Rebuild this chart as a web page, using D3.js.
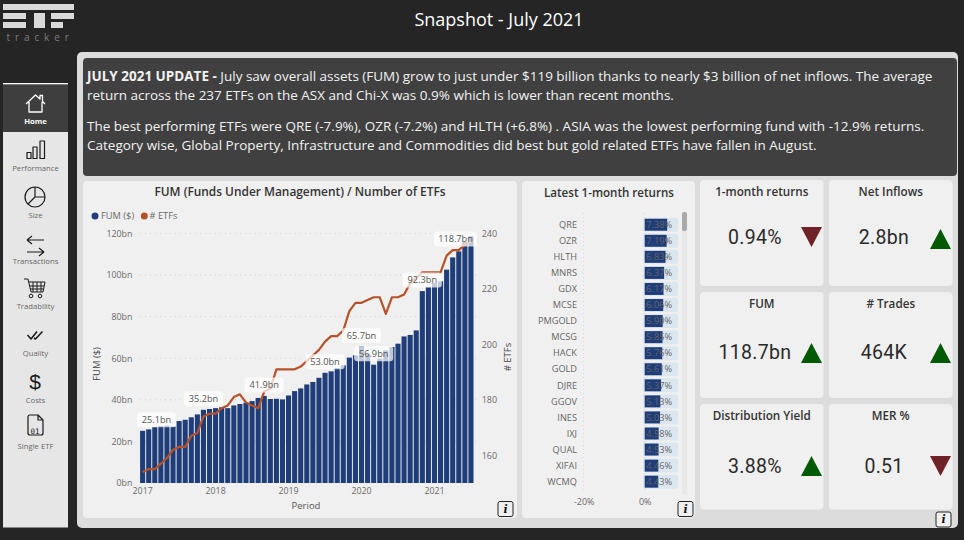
<!DOCTYPE html>
<html><head><meta charset="utf-8">
<script src="https://cdn.jsdelivr.net/npm/d3@7"></script>
<style>
html,body{margin:0;padding:0;background:#252525;overflow:hidden}
svg{display:block}
text{font-family:"Open Sans",sans-serif}
</style></head><body>
<svg id="c" width="964" height="540"></svg>
<script>
const periods=["2017-01","2017-02","2017-03","2017-04","2017-05","2017-06","2017-07","2017-08","2017-09","2017-10","2017-11","2017-12",
"2018-01","2018-02","2018-03","2018-04","2018-05","2018-06","2018-07","2018-08","2018-09","2018-10","2018-11","2018-12",
"2019-01","2019-02","2019-03","2019-04","2019-05","2019-06","2019-07","2019-08","2019-09","2019-10","2019-11","2019-12",
"2020-01","2020-02","2020-03","2020-04","2020-05","2020-06","2020-07","2020-08","2020-09","2020-10","2020-11","2020-12",
"2021-01","2021-02","2021-03","2021-04","2021-05","2021-06","2021-07"];
const fum=[25.1,25.8,26.9,27.4,27.6,27.2,29.8,30.4,31.6,33.0,35.2,35.6,36.0,36.4,36.0,37.3,38.0,38.6,39.4,40.9,41.9,40.4,40.5,40.2,42.1,44.2,45.5,47.4,48.6,50.6,53.0,53.7,55.3,56.6,60.3,61.4,65.7,62.2,56.9,59.8,63.8,65.4,67.0,70.5,71.2,73.4,92.3,94.2,96.2,97.0,102.6,108.5,111.4,115.9,118.7];
const etfs=[154,155,155,157,159,162,163,163,167,168,174,175,175,177,178,181,182,179,178,177,183,184,191,191,191,191,192,194,196,198,201,203,203,205,212,215,215,216,217,217,211,217,217,218,222,224,226,226,226,226,232,234,234,236,237];
const labelled=["2017-01","2017-11","2018-09","2019-07","2020-01","2020-03","2020-11","2021-07"];
const yearTicks=["2017-01","2018-01","2019-01","2020-01","2021-01"];
const fumTicks=[0,20,40,60,80,100,120];
const etfTicks=[160,180,200,220,240];
const retNames=["QRE","OZR","HLTH","MNRS","GDX","MCSE","PMGOLD","MCSG","HACK","GOLD","DJRE","GGOV","INES","IXJ","QUAL","XIFAI","WCMQ"];
const retVals=[7.38,7.19,6.83,6.37,6.17,6.06,5.90,5.85,5.76,5.61,5.37,5.13,5.03,4.58,4.53,4.46,4.43];
const retTicks=[-20,0];
const kpiTitles=["1-month returns","Net Inflows","FUM","# Trades","Distribution Yield","MER %"];
const kpiValues=["0.94%","2.8bn","118.7bn","464K","3.88%","0.51"];
const kpiUp=[false,true,true,true,true,false];
const navLabels=["Home","Performance","Size","Transactions","Tradability","Quality","Costs","Single ETF"];
const paragraphLines=[
 [["JULY 2021 UPDATE - ",700],["July saw overall assets (FUM) grow to just under $119 billion thanks to nearly $3 billion of net inflows. The average",400]],
 [["return across the 237 ETFs on the ASX and Chi-X was 0.9% which is lower than recent months.",400]],
 [["The best performing ETFs were QRE (-7.9%), OZR (-7.2%) and HLTH (+6.8%) . ASIA was the lowest performing fund with -12.9% returns.",400]],
 [["Category wise, Global Property, Infrastructure and Commodities did best but gold related ETFs have fallen in August.",400]]
];

const svg=d3.select("#c");
const NAVY="#1f3d78",RUST="#b5522a",CARD="#f0f0f0",GREY="#6a6a6a";
const rect=(x,y,w,h,fill,r=0)=>svg.append("rect").attr("x",x).attr("y",y).attr("width",w).attr("height",h).attr("fill",fill).attr("rx",r);
const txt=(x,y,s,size,fill,anchor="middle",weight=400,fam=null)=>{
  const t=svg.append("text").attr("x",x).attr("y",y).attr("dy","0.35em").attr("font-size",size).attr("fill",fill).attr("text-anchor",anchor).attr("font-weight",weight).text(s);
  if(fam)t.style("font-family",fam);return t;};

/* shell */
rect(0,0,964,540,"#252525");
rect(77,52,881,476,"#dcdcdc",5);
rect(83,58,874,118,"#404040",4);
rect(83,181,434,337,CARD,4);
rect(522,181,173,337,CARD,4);

/* logo */
[[3,4,71,6],[3,13,23,6],[3,22,23,6],[34,13,11,15],[51,13,23,6],[51,22,12,6]].forEach(d=>rect(d[0],d[1],d[2],d[3],"#d9d9d9"));
txt(6.5,37.5,"tracker",10,"#7d7d7d","start").attr("letter-spacing","4.9px");
txt(499,20,"Snapshot - July 2021",18,"#ffffff");

/* paragraph */
const lineY=[76.5,95.5,126,145.5];
paragraphLines.forEach((runs,i)=>{
  const t=svg.append("text").attr("x",87).attr("y",lineY[i]).attr("dy","0.35em").attr("font-size",13.5).attr("fill","#f2f2f2");
  runs.forEach(r=>t.append("tspan").attr("font-weight",r[1]).text(r[0]));
});

/* FUM chart */
const x=d3.scaleBand().domain(periods).range([139.6,474]).paddingInner(0.16).paddingOuter(0.08);
const y=d3.scaleLinear().domain([0,120]).range([483,233.5]);
const y2=d3.scaleLinear().domain([150,240]).range([483,233.5]);
txt(300,191.5,"FUM (Funds Under Management) / Number of ETFs",11.9,"#333","middle",600);
svg.append("circle").attr("cx",95).attr("cy",216).attr("r",3.5).attr("fill",NAVY);
txt(101,216,"FUM ($)",9.3,GREY,"start");
svg.append("circle").attr("cx",144.3).attr("cy",216).attr("r",3.5).attr("fill",RUST);
txt(149.5,216,"# ETFs",9.3,GREY,"start");

const gy=svg.append("g").attr("transform","translate(136,0)").call(d3.axisLeft(y).tickValues(fumTicks).tickSize(0).tickPadding(3.7).tickFormat(d=>d+"bn"));
gy.select(".domain").remove();
gy.selectAll("text").attr("font-size",8.8).attr("fill",GREY).style("font-family",'"Open Sans",sans-serif');
svg.append("g").selectAll("line").data(fumTicks.filter(d=>d>0)).join("line")
  .attr("x1",140).attr("x2",477).attr("y1",y).attr("y2",y)
  .attr("stroke","#cfcfcf").attr("stroke-dasharray","1 4");
const gy2=svg.append("g").attr("transform","translate(477,0)").call(d3.axisRight(y2).tickValues(etfTicks).tickSize(0).tickPadding(4.7));
gy2.select(".domain").remove();
gy2.selectAll("text").attr("font-size",9).attr("fill",GREY).style("font-family",'"Open Sans",sans-serif');
const gx=svg.append("g").attr("transform","translate(0,483)").call(d3.axisBottom(x).tickValues(yearTicks).tickSize(0).tickPadding(4.5).tickFormat(d=>d.slice(0,4)));
gx.select(".domain").remove();
gx.selectAll("text").attr("font-size",8.8).attr("fill",GREY).style("font-family",'"Open Sans",sans-serif');
txt(306,505.5,"Period",9.5,"#555");
txt(97,364,"FUM ($)",9.5,"#444").attr("transform","rotate(-90 97 364)");
txt(507.5,357,"# ETFs",9.5,"#444").attr("transform","rotate(-90 507.5 357)");

const rows=periods.map((p,i)=>({p,fum:fum[i],etfs:etfs[i]}));
svg.append("g").selectAll("rect").data(rows).join("rect")
  .attr("x",d=>x(d.p)).attr("width",x.bandwidth()).attr("y",d=>y(d.fum)).attr("height",d=>y(0)-y(d.fum)).attr("fill",NAVY);
svg.append("path").datum(rows).attr("fill","none").attr("stroke",RUST).attr("stroke-width",2.2).attr("stroke-linejoin","round")
  .attr("d",d3.line().x(d=>x(d.p)+x.bandwidth()/2).y(d=>y2(d.etfs)));
const lab=svg.append("g");
rows.filter(d=>labelled.includes(d.p)).forEach(d=>{
  const s=d.fum.toFixed(1)+"bn", w=s.length>6?43:39, h=15;
  const cx=Math.min(Math.max(x(d.p)+x.bandwidth()/2,137+w/2),477-w/2);
  const cy=Math.max(y(d.fum)-11,239);
  lab.append("rect").attr("x",cx-w/2).attr("y",cy-h/2).attr("width",w).attr("height",h).attr("rx",3).attr("fill","#fff").attr("fill-opacity",.72);
  lab.append("text").attr("x",cx).attr("y",cy).attr("dy","0.35em").attr("text-anchor","middle").attr("font-size",9.2).attr("fill","#555").text(s);
});

/* Returns chart */
const rx=d3.scaleLinear().domain([-20,0]).range([583.7,644.7]);
const ry=d3.scaleBand().domain(retNames).range([216.7,489.7]).paddingInner(0.2).paddingOuter(0.1);
txt(609,193,"Latest 1-month returns",11.6,"#333","middle",600);
svg.append("g").selectAll("line").data(retTicks).join("line").attr("x1",rx).attr("x2",rx).attr("y1",213).attr("y2",493)
  .attr("stroke","#d2d2d2").attr("stroke-dasharray","1 3");
const gr=svg.append("g").attr("transform","translate(0,493)").call(d3.axisBottom(rx).tickValues(retTicks).tickSize(0).tickPadding(6).tickFormat(d=>d+"%"));
gr.select(".domain").remove();
gr.selectAll("text").attr("font-size",9).attr("fill",GREY).style("font-family",'"Open Sans",sans-serif');
const retRows=retNames.map((n,i)=>({n,v:retVals[i]}));
const rg=svg.append("g");
rg.selectAll(".bg").data(retRows).join("rect").attr("class","bg").attr("x",rx(0)-1.7).attr("width",35).attr("y",d=>ry(d.n)+ry.bandwidth()/2-7).attr("height",14).attr("rx",2).attr("fill","#dce6ef");
rg.selectAll(".bar").data(retRows).join("rect").attr("class","bar").attr("x",rx(0)).attr("width",d=>rx(d.v)-rx(0)).attr("y",d=>ry(d.n)+ry.bandwidth()/2-6).attr("height",12).attr("fill",NAVY);
rg.selectAll(".v").data(retRows).join("text").attr("class","v").attr("x",672).attr("y",d=>ry(d.n)+ry.bandwidth()/2).attr("dy","0.35em").attr("text-anchor","end").attr("font-size",9.2).attr("fill","#666").text(d=>d.v.toFixed(2)+"%");
rg.selectAll(".n").data(retRows).join("text").attr("class","n").attr("x",577).attr("y",d=>ry(d.n)+ry.bandwidth()/2).attr("dy","0.35em").attr("text-anchor","end").attr("font-size",9.2).attr("fill","#666").text(d=>d.n);
rect(682,212,5,283,"#e8e8e8",2);
rect(682,212,5,19,"#a9a9a9",2);

/* KPI cards */
const colX=[700,829], cardW=123.5;
const rowTop=[180,292,404], rowH=[106,106,105.5], valY=[237.5,352,466], triY=[227,343,456], titleY=[192,304,416];
kpiTitles.forEach((t,i)=>{
  const c=i%2,r=Math.floor(i/2),X=colX[c];
  rect(X,rowTop[r],cardW,rowH[r],CARD,4);
  txt(X+cardW/2,titleY[r],t,11.7,"#333","middle",600);
  txt(X+55,valY[r],kpiValues[i],19.5,"#2a2a2a","middle",400,"Roboto").attr("letter-spacing","0.3px");
  const tx=X+101,ty=triY[r]+(i==1?2:0);
  const pts=kpiUp[i]?[[tx+10.5,ty],[tx+21,ty+20],[tx,ty+20]]:[[tx,ty],[tx+21,ty],[tx+10.5,ty+20]];
  svg.append("path").attr("d",d3.line()(pts)+"Z").attr("fill",kpiUp[i]?"#045a04":"#6e2127");
});

/* info buttons */
[[51,509],[498,501.5],[678,501.5],[936,512]].forEach(p=>{
  svg.append("rect").attr("x",p[0]).attr("y",p[1]).attr("width",15).attr("height",15).attr("rx",2).attr("fill",CARD).attr("stroke","#222");
  txt(p[0]+7.5,p[1]+7.5,"i",11,"#111","middle",700,"DejaVu Serif").attr("font-style","italic");
});

/* sidebar */
rect(3,83,65,1.5,"#ffffff");
rect(3,84.5,65,443,"#e6e6e6");
rect(3,84.5,65,47.5,"#3e3e3e");
const labY=[121,168,215,261,306,353,400,446];
navLabels.forEach((n,i)=>txt(35.5,labY[i],n,7.7,i==0?"#fff":"#666","middle",i==0?700:400));
const ico=(d,stroke="#1a1a1a",w=1.2,fill="none")=>svg.append("path").attr("d",d).attr("fill",fill).attr("stroke",stroke).attr("stroke-width",w).attr("stroke-linejoin","round");
ico("M26 104 L35.5 95 L40 99 L40 95.5 L42.5 95.5 L42.5 101.5 L45 104 M29 102 V112 H42 V102","#fff",1.3);
ico("M27 152.5h4v6h-4z M33 147h4v11.5h-4z M40 141h4.5v17.5H40z");
svg.append("circle").attr("cx",35).attr("cy",197).attr("r",10).attr("fill","none").attr("stroke","#1a1a1a").attr("stroke-width",1.2);
ico("M35 187V197L45 197 M35 197L28 204");
ico("M27 240H44 M27 240L32 236 M27 240L32 244 M44 252H27 M44 252L39 248 M44 252L39 256");
ico("M24 279H28L31 292H43L45 282H29 M33 282V292 M37 282V292 M41 282V292 M30 286H44 M30 289H43",'#1a1a1a',1);
svg.append("circle").attr("cx",31).attr("cy",296).attr("r",1.8).attr("fill","none").attr("stroke","#1a1a1a");
svg.append("circle").attr("cx",40).attr("cy",296).attr("r",1.8).attr("fill","none").attr("stroke","#1a1a1a");
ico("M27.5 335L31 339L37 331.5 M34 338L35.5 339L42.5 331.5","#1a1a1a",1.6);
txt(35,382,"$",21,"#1a1a1a","middle",400,'"Liberation Sans"');
ico("M30 415H38L43 420V433Q43 435 41 435H30Q28 435 28 433V417Q28 415 30 415Z M38 415V420H43");
txt(35,431,"01",7.5,"#1a1a1a","middle",400,"DejaVu Sans Mono");
</script></body></html>
